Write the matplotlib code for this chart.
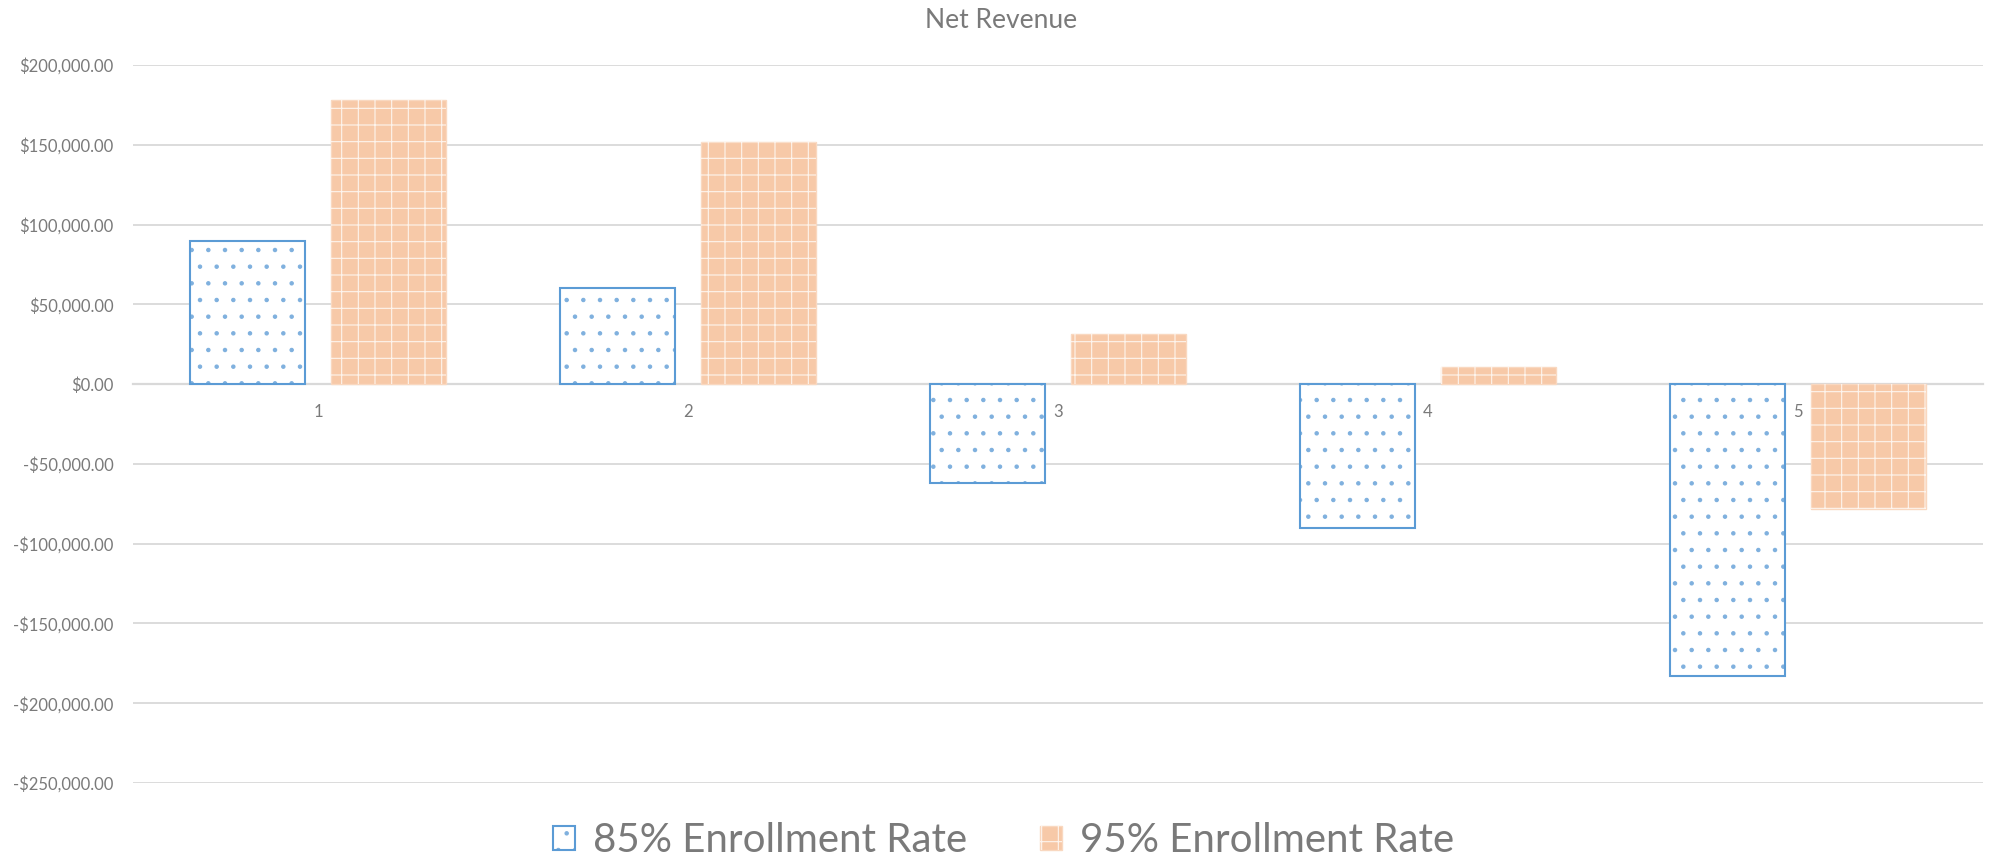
import matplotlib.pyplot as plt
import numpy as np
from matplotlib.ticker import FuncFormatter

# Chart data
categories = ['1', '2', '3', '4', '5']
rate_85 = [89400, 60500, -62000, -90400, -183000]
rate_95 = [177900, 151900, 31500, 10800, -78000]
series_names = ['85% Enrollment Rate', '95% Enrollment Rate']
y_ticks = [200000, 150000, 100000, 50000, 0, -50000, -100000, -150000, -200000, -250000]

plt.rcParams['font.family'] = ['Lato', 'DejaVu Sans']
plt.rcParams['hatch.linewidth'] = 0.8

blue = '#5B9BD5'
orange = '#F7C9A8'
text_gray = '#7A7A7A'
grid_gray = '#D9D9D9'

fig = plt.figure(figsize=(19.95, 8.61), dpi=100)
ax = fig.add_axes([133 / 1995, 1 - 783 / 861, (1983 - 133) / 1995, (783 - 65) / 861])

x = np.arange(len(categories))
width = 0.312
offset = 0.191

# 85% series: white with small blue dots
dots_85 = ax.bar(x - offset, rate_85, width, facecolor='white', edgecolor='#7FB0DE',
                 linewidth=0, hatch='.', zorder=3)
bars_85 = ax.bar(x - offset, rate_85, width, facecolor='none', edgecolor=blue,
                 linewidth=1.5, zorder=4)

# 95% series: light orange with white grid on top
bars_95 = ax.bar(x + offset, rate_95, width, facecolor=orange, edgecolor='#F9D8C0',
                 linewidth=1.0, zorder=3)
grid_95 = ax.bar(x + offset, rate_95, width, facecolor='none', edgecolor=(1, 1, 1, 0.8),
                 linewidth=0, hatch='+', zorder=4)

ax.set_xlim(-0.5, len(categories) - 0.5)
ax.set_ylim(-250000, 200000)
ax.set_yticks(y_ticks)
ax.yaxis.set_major_formatter(FuncFormatter(
    lambda v, p: ('-$' if v < 0 else '$') + f'{abs(v):,.2f}'))

ax.grid(True, axis='y', color=grid_gray, linewidth=1.3)
ax.set_axisbelow(True)
for side in ['top', 'right', 'left']:
    ax.spines[side].set_visible(False)
ax.spines['bottom'].set_position(('data', 0))
ax.spines['bottom'].set_color(grid_gray)
ax.spines['bottom'].set_linewidth(1.6)
ax.spines['bottom'].set_zorder(2)

ax.set_xticks(x)
ax.set_xticklabels(categories)
ax.tick_params(axis='y', length=0, pad=14, labelsize=12, labelcolor=text_gray)
ax.tick_params(axis='x', length=0, pad=14, labelsize=12, labelcolor=text_gray)

fig.text(0.502, 1 - 20 / 861, 'Net Revenue', ha='center', va='center',
         fontsize=19, color=text_gray)

leg = fig.legend([(dots_85, bars_85), (bars_95, grid_95)], series_names, loc='center',
                 bbox_to_anchor=(0.503, 1 - 841 / 861), ncol=2, frameon=False,
                 fontsize=29, handlelength=0.55, handleheight=0.55,
                 handletextpad=0.45, columnspacing=1.8)
for t in leg.get_texts():
    t.set_color(text_gray)

plt.savefig('out.png', dpi=100)
plt.close()
